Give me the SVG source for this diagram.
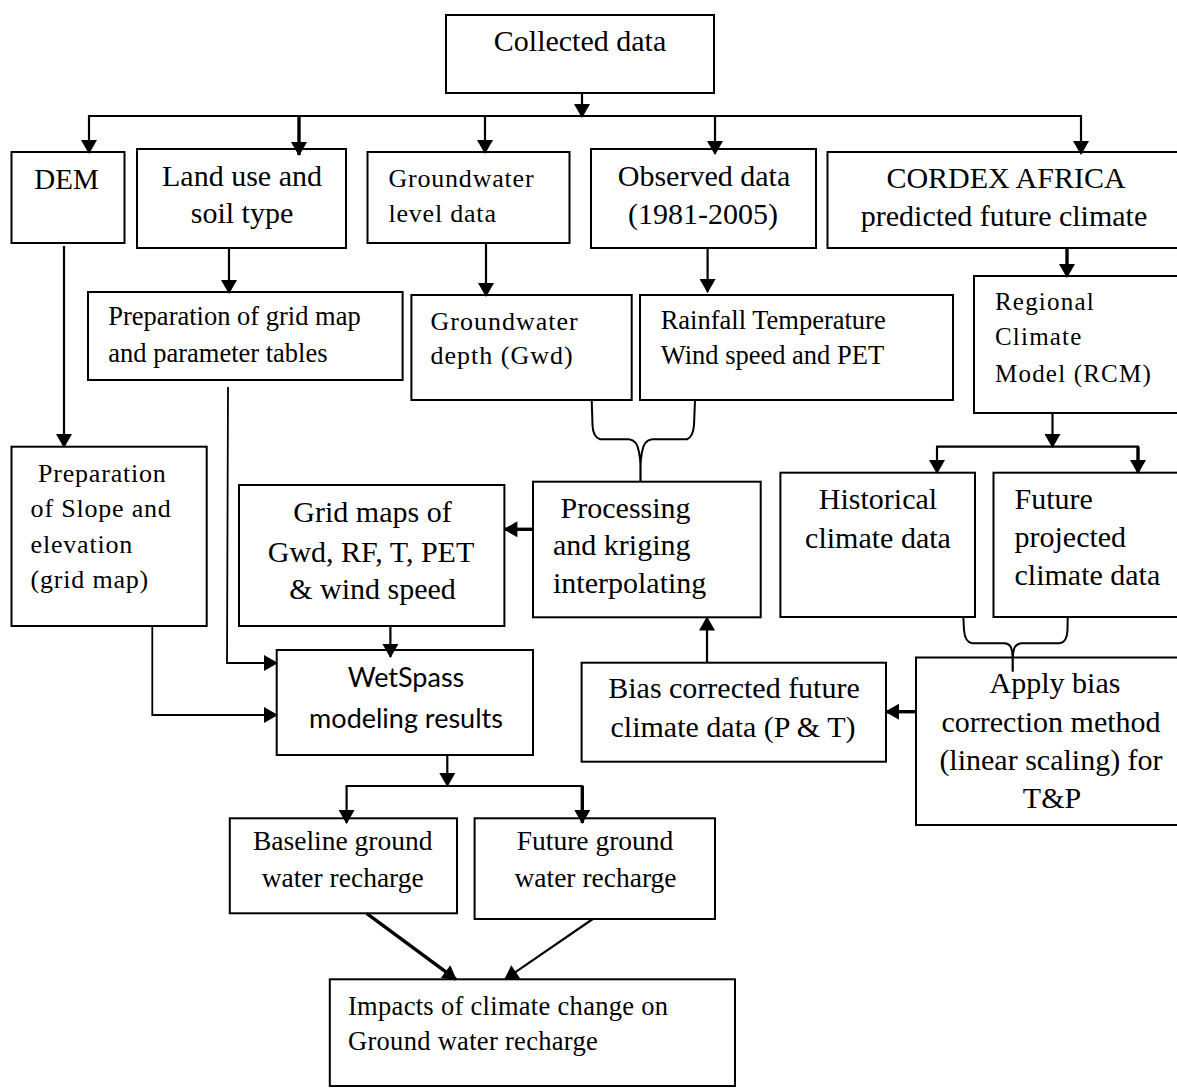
<svg xmlns="http://www.w3.org/2000/svg" width="1177" height="1088" viewBox="0 0 1177 1088">
<style>
  .box { fill: #ffffff; stroke: #000000; stroke-width: 2; }
  .t { font-family: "Liberation Serif", "Times New Roman", serif; fill: #000000; }
  .s30 { font-size: 30px; }
  .s29 { font-size: 29px; }
  .s27 { font-size: 27.5px; }
  .s26 { font-size: 26.5px; }
  .sp { font-size: 26px; letter-spacing: 0.8px; }
  .rc { font-size: 25px; letter-spacing: 1.2px; }
  .c { text-anchor: middle; }
  .sans { font-family: Lato, "Open Sans", "Liberation Sans", sans-serif; font-size: 27px; fill: #000000; text-anchor: middle; }
  .ln { fill: none; stroke: #000000; stroke-width: 2.2; }
  .thk { fill: none; stroke: #000000; stroke-width: 3.4; }
  .thin { fill: none; stroke: #000000; stroke-width: 1.8; }
  .br { fill: none; stroke: #000000; stroke-width: 2; stroke-linejoin: round; }
</style>
<defs>
  <marker id="ah" markerUnits="userSpaceOnUse" markerWidth="16" markerHeight="16" viewBox="0 0 14 16" refX="13" refY="8" orient="auto">
    <path d="M0,0 L14,8 L0,16 z" fill="#000000"/>
  </marker>
</defs>
<rect width="1177" height="1088" fill="#ffffff"/>

<g id="nodes">
  <g id="collected"><rect class="box" x="446" y="15" width="268" height="78"/><text class="t s30 c" x="580" y="51">Collected data</text></g>
  <g id="dem"><rect class="box" x="11.5" y="152" width="113" height="91"/><text class="t s29 c" x="66.5" y="189">DEM</text></g>
  <g id="landuse"><rect class="box" x="137" y="149" width="209" height="99"/><text class="t s30 c" x="242" y="186">Land use and</text><text class="t s30 c" x="242" y="223">soil type</text></g>
  <g id="gwlevel"><rect class="box" x="367.5" y="152" width="202" height="91"/><text class="t sp" x="388.4" y="187">Groundwater</text><text class="t sp" x="388.4" y="222">level data</text></g>
  <g id="observed"><rect class="box" x="591" y="149" width="225" height="99"/><text class="t s30 c" x="704" y="186">Observed data</text><text class="t s30 c" x="703" y="224">(1981-2005)</text></g>
  <g id="cordex"><rect class="box" x="827.5" y="152" width="362.5" height="96"/><text class="t s30 c" x="1006" y="188">CORDEX AFRICA</text><text class="t s30 c" x="1004" y="226">predicted future climate</text></g>
  <g id="prepgrid"><rect class="box" x="88" y="292" width="314.6" height="88"/><text class="t s26" x="108.3" y="325">Preparation of grid map</text><text class="t s26" x="108.3" y="362">and parameter tables</text></g>
  <g id="gwdepth"><rect class="box" x="411.4" y="295" width="220.3" height="105"/><text class="t sp" x="430.5" y="330" style="letter-spacing:1px">Groundwater</text><text class="t sp" x="430.5" y="364" style="letter-spacing:1px">depth (Gwd)</text></g>
  <g id="rainfall"><rect class="box" x="640" y="295" width="313" height="105"/><text class="t s26" x="660.7" y="329">Rainfall Temperature</text><text class="t s26" x="660.7" y="364">Wind speed and PET</text></g>
  <g id="rcm"><rect class="box" x="974" y="276" width="216" height="137"/><text class="t rc" x="995" y="310">Regional</text><text class="t rc" x="995" y="345">Climate</text><text class="t rc" x="995" y="382">Model (RCM)</text></g>
  <g id="prepslope"><rect class="box" x="11.5" y="446.7" width="195.2" height="179.3"/><text class="t sp" x="38" y="481.7">Preparation</text><text class="t sp" x="30.6" y="516.7">of Slope and</text><text class="t sp" x="30.6" y="552.7">elevation</text><text class="t sp" x="30.6" y="588.3">(grid map)</text></g>
  <g id="gridmaps"><rect class="box" x="239" y="485" width="265.4" height="141"/><text class="t s30 c" x="372.5" y="521.7">Grid maps of</text><text class="t s30 c" x="371" y="561.7">Gwd, RF, T, PET</text><text class="t s30 c" x="372.5" y="599.3">&amp; wind speed</text></g>
  <g id="processing"><rect class="box" x="533" y="481.7" width="227.7" height="135.6"/><text class="t s30" x="560.6" y="518">Processing</text><text class="t s30" x="553" y="555">and kriging</text><text class="t s30" x="553" y="593">interpolating</text></g>
  <g id="historical"><rect class="box" x="780.4" y="472.7" width="194.6" height="144.3"/><text class="t s30 c" x="878" y="509">Historical</text><text class="t s30 c" x="878" y="548">climate data</text></g>
  <g id="futureproj"><rect class="box" x="993.5" y="472.7" width="196.5" height="144.3"/><text class="t s30" x="1014.5" y="509">Future</text><text class="t s30" x="1014.5" y="547">projected</text><text class="t s30" x="1014.5" y="585">climate data</text></g>
  <g id="wetspass"><rect class="box" x="276.7" y="650" width="256.3" height="105"/><text class="sans" x="406" y="686.7">WetSpass</text><text class="sans" x="406" y="728.3">modeling results</text></g>
  <g id="bias"><rect class="box" x="581.6" y="662.7" width="304.4" height="99"/><text class="t s30 c" x="734" y="698">Bias corrected future</text><text class="t s30 c" x="733" y="737">climate data (P &amp; T)</text></g>
  <g id="apply"><rect class="box" x="916" y="657.5" width="274" height="167.5"/><text class="t s30 c" x="1055" y="693">Apply bias</text><text class="t s30 c" x="1051" y="732">correction method</text><text class="t s30 c" x="1051" y="770">(linear scaling) for</text><text class="t s30 c" x="1052" y="808">T&amp;P</text></g>
  <g id="baseline"><rect class="box" x="229.8" y="818.3" width="227.2" height="95"/><text class="t s27 c" x="342.7" y="850">Baseline ground</text><text class="t s27 c" x="342.7" y="886.7">water recharge</text></g>
  <g id="futureground"><rect class="box" x="474.6" y="818.3" width="240.4" height="100.7"/><text class="t s27 c" x="595" y="850">Future ground</text><text class="t s27 c" x="595.5" y="886.7">water recharge</text></g>
  <g id="impacts"><rect class="box" x="329.8" y="979.3" width="405.2" height="106.7"/><text class="t s26" x="348" y="1015" style="letter-spacing:0.3px">Impacts of climate change on</text><text class="t s26" x="348" y="1050" style="letter-spacing:0.3px">Ground water recharge</text></g>
</g>

<g id="connectors">
  <line class="ln" x1="582" y1="93" x2="582" y2="117" marker-end="url(#ah)"/>
  <line class="ln" x1="88" y1="116" x2="1082" y2="116"/>
  <line class="ln" x1="89" y1="116" x2="89" y2="153" marker-end="url(#ah)"/>
  <line class="thk" x1="299" y1="116" x2="299" y2="155" marker-end="url(#ah)"/>
  <line class="ln" x1="485" y1="116" x2="485" y2="153" marker-end="url(#ah)"/>
  <line class="ln" x1="715" y1="116" x2="715" y2="154" marker-end="url(#ah)"/>
  <line class="ln" x1="1081" y1="116" x2="1081" y2="154" marker-end="url(#ah)"/>
  <line class="ln" x1="229" y1="248" x2="229" y2="293" marker-end="url(#ah)"/>
  <line class="ln" x1="486" y1="243" x2="486" y2="296" marker-end="url(#ah)"/>
  <line class="ln" x1="707.6" y1="248" x2="707.6" y2="292" marker-end="url(#ah)"/>
  <line class="thk" x1="1067" y1="248" x2="1067" y2="277" marker-end="url(#ah)"/>
  <line class="ln" x1="1052.5" y1="413" x2="1052.5" y2="447" marker-end="url(#ah)"/>
  <line class="ln" x1="936" y1="446.7" x2="1139" y2="446.7"/>
  <line class="ln" x1="937" y1="446.7" x2="937" y2="473" marker-end="url(#ah)"/>
  <line class="thk" x1="1138" y1="446.7" x2="1138" y2="473" marker-end="url(#ah)"/>
  <line class="ln" x1="64" y1="246" x2="64" y2="447" marker-end="url(#ah)"/>
  <polyline class="thin" points="228,387 227,663 277,663" marker-end="url(#ah)"/>
  <polyline class="thin" points="152.3,626 152.3,715 277,715" marker-end="url(#ah)"/>
  <line class="ln" x1="390.4" y1="626" x2="390.4" y2="657" marker-end="url(#ah)"/>
  <line class="thk" x1="533" y1="529.3" x2="504.4" y2="529.3" marker-end="url(#ah)"/>
  <line class="ln" x1="707" y1="662.7" x2="707" y2="617.5" marker-end="url(#ah)"/>
  <line class="thk" x1="916" y1="711.7" x2="886" y2="711.7" marker-end="url(#ah)"/>
  <line class="ln" x1="447.3" y1="755" x2="447.3" y2="786" marker-end="url(#ah)"/>
  <line class="ln" x1="345.6" y1="786" x2="583.3" y2="786"/>
  <line class="ln" x1="346.6" y1="786" x2="346.6" y2="823" marker-end="url(#ah)"/>
  <line class="thk" x1="582.3" y1="786" x2="582.3" y2="823" marker-end="url(#ah)"/>
  <line class="thk" x1="366.6" y1="913.3" x2="456" y2="979.3" marker-end="url(#ah)"/>
  <line class="ln" x1="592.8" y1="919" x2="505" y2="979.3" marker-end="url(#ah)"/>
  <path class="br" d="M591.7,400 L592.5,425 Q593,437 600,439.3 L629,439.3 Q637,440 639,452 L640.5,462 L642,452 Q644,440 652,439.3 L687,439.3 Q693,437 694,425 L695,400"/>
  <line class="ln" x1="640.5" y1="461" x2="640.5" y2="481.7"/>
  <path class="br" d="M963.3,616.7 L964,630 Q965,642 972,643.3 L1005,643.3 Q1011,644 1012,651 L1012.7,657 L1013.5,651 Q1015,644 1021,643.3 L1060,643.3 Q1067,642 1067.5,630 L1067.7,616.7"/>
  <line class="ln" x1="1012.7" y1="656" x2="1012.7" y2="671.7"/>
</g>
</svg>
